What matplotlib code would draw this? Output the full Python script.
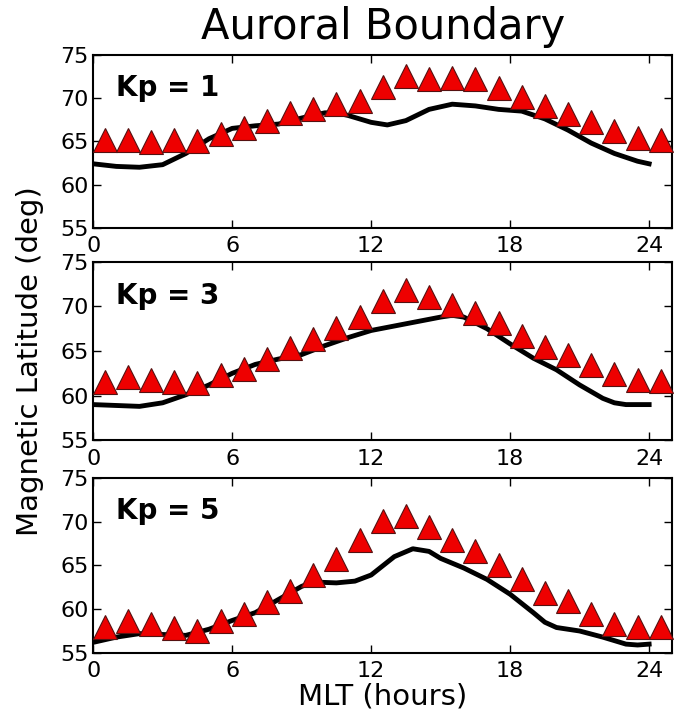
import numpy as np
import matplotlib
matplotlib.use('Agg')
import matplotlib.pyplot as plt

# 三角形：观测到的极光边界（每小时一个点）
mlt_obs = np.arange(0.5, 25, 1.0)
obs_kp1 = [65.1, 65.1, 64.9, 65.1, 65.0, 65.9, 66.5, 67.3, 68.3, 68.7, 69.3, 69.7, 71.3,
           72.6, 72.2, 72.3, 72.2, 71.2, 70.1, 69.1, 68.2, 67.2, 66.2, 65.4, 65.1]
obs_kp3 = [61.5, 62.1, 61.7, 61.5, 61.4, 62.3, 63.0, 64.1, 65.3, 66.4, 67.6, 68.8, 70.6,
           71.8, 71.0, 70.2, 69.3, 68.1, 66.7, 65.5, 64.5, 63.4, 62.4, 61.7, 61.6]
obs_kp5 = [57.9, 58.7, 58.3, 57.8, 57.5, 58.6, 59.5, 60.8, 62.1, 63.9, 65.7, 67.9, 70.1,
           70.7, 69.4, 67.9, 66.6, 65.1, 63.4, 61.9, 60.9, 59.4, 58.3, 57.9, 57.9]

# 黑线：模型边界
mlt_kp1 = [0, 1, 2, 3, 4, 5, 6, 7, 8, 9, 10, 10.5, 11, 12, 12.7, 13.5, 14.5, 15.5, 16.5,
           17.5, 18.5, 19.5, 20.5, 21.5, 22.5, 23.5, 24]
mod_kp1 = [62.4, 62.1, 62.0, 62.3, 63.6, 65.3, 66.5, 66.8, 67.0, 67.7, 68.3, 68.3, 68.0,
           67.2, 66.9, 67.4, 68.7, 69.3, 69.1, 68.7, 68.5, 67.6, 66.3, 64.8, 63.6, 62.7, 62.4]
mlt_kp3 = [0, 1, 2, 3, 4, 5, 6, 7, 8, 9, 10, 11, 12, 13, 14, 15, 15.5, 16, 17, 18, 19,
           20, 21, 22, 22.5, 23, 24]
mod_kp3 = [59.0, 58.9, 58.8, 59.2, 60.1, 61.2, 62.5, 63.5, 64.1, 64.6, 65.6, 66.5, 67.3,
           67.8, 68.3, 68.8, 69.0, 68.8, 67.5, 65.8, 64.2, 62.9, 61.2, 59.7, 59.2, 59.0, 59.0]
mlt_kp5 = [0, 1, 2, 3, 4, 5, 6, 7, 8, 9, 9.5, 10.5, 11.3, 12, 13, 13.8, 14.5, 15, 16, 17,
           18, 19, 19.5, 20, 21, 22, 23, 23.5, 24]
mod_kp5 = [56.2, 56.8, 57.2, 57.1, 57.0, 57.7, 58.7, 59.6, 61.1, 62.6, 63.1, 63.0, 63.2,
           63.9, 66.0, 66.9, 66.6, 65.8, 64.7, 63.4, 61.7, 59.6, 58.5, 57.9, 57.5, 56.8,
           56.0, 55.9, 56.0]

labels = ['Kp = 1', 'Kp = 3', 'Kp = 5']
obs_all = [obs_kp1, obs_kp3, obs_kp5]
mlt_all = [mlt_kp1, mlt_kp3, mlt_kp5]
mod_all = [mod_kp1, mod_kp3, mod_kp5]

fig = plt.figure(figsize=(6.75, 7.23), dpi=100)
boxes = [[0.138, 0.685, 0.858, 0.239],
         [0.138, 0.391, 0.858, 0.247],
         [0.138, 0.097, 0.858, 0.242]]

for i in range(3):
    ax = fig.add_axes(boxes[i])
    ax.plot(mlt_all[i], mod_all[i], color='black', lw=3.5, zorder=2,
            solid_joinstyle='round')
    ax.plot(mlt_obs, obs_all[i], linestyle='none', marker='^', ms=17,
            mfc='#ee0000', mec='#551111', mew=0.8, zorder=3, clip_on=False)
    ax.set_xlim(0, 25)
    ax.set_ylim(55, 75)
    ax.set_xticks([0, 6, 12, 18, 24])
    ax.set_yticks([55, 60, 65, 70, 75])
    ax.tick_params(direction='in', top=True, right=True, length=6, width=1,
                   labelsize=16)
    ax.tick_params(axis='x', pad=6)
    ax.tick_params(axis='y', pad=3)
    for s in ax.spines.values():
        s.set_linewidth(1.5)
    ax.text(0.04, 0.81, labels[i], transform=ax.transAxes, fontsize=20,
            fontweight='bold', va='center', ha='left')
    if i == 2:
        ax.set_xlabel('MLT (hours)', fontsize=21, labelpad=1)

fig.text(0.045, 0.5, 'Magnetic Latitude (deg)', rotation=90, fontsize=21,
         ha='center', va='center')
fig.text(0.567, 0.962, 'Auroral Boundary', fontsize=30, ha='center', va='center')

plt.savefig('out.png', dpi=100)
